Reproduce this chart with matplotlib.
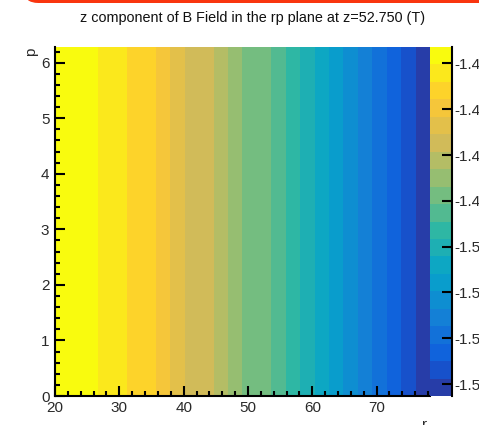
import numpy as np
import matplotlib
matplotlib.use("Agg")
import matplotlib.pyplot as plt
from matplotlib.colors import LinearSegmentedColormap, ListedColormap, BoundaryNorm
from matplotlib.patches import FancyBboxPatch
from matplotlib.ticker import MultipleLocator

plt.rcParams['font.family'] = ['Liberation Sans', 'DejaVu Sans']

# histogram binning: r (26 bins) x phi
r_lo, r_hi, n_r = 20.0, 78.3, 26
p_lo, p_hi = 0.0, 2 * np.pi

# Bz per r bin in tesla (uniform in phi)
bz = [-1.4128, -1.4150, -1.4185, -1.4225, -1.4265, -1.4305, -1.4345,
      -1.4390, -1.4440, -1.4520, -1.4570, -1.4620, -1.4690, -1.4750,
      -1.4800, -1.4860, -1.4930, -1.5000, -1.5080, -1.5160, -1.5230,
      -1.5300, -1.5380, -1.5460, -1.5540, -1.5652]
cbar_ticks = [-1.42, -1.44, -1.46, -1.48, -1.50, -1.52, -1.54, -1.56]
n_contours = 20

title = "z component of B Field in the rp plane at z=52.750 (T)"

# ROOT kBird palette
bird_stops = [0.0, 0.125, 0.25, 0.375, 0.5, 0.625, 0.75, 0.875, 1.0]
bird_r = [0.2082, 0.0592, 0.0780, 0.0232, 0.1802, 0.5301, 0.8186, 0.9956, 0.9764]
bird_g = [0.1664, 0.3599, 0.5041, 0.6419, 0.7178, 0.7492, 0.7328, 0.7862, 0.9832]
bird_b = [0.5293, 0.8684, 0.8385, 0.7914, 0.6425, 0.4662, 0.3499, 0.1968, 0.0539]
bird = LinearSegmentedColormap.from_list(
    "bird", list(zip(bird_stops, zip(bird_r, bird_g, bird_b))), N=255)
# one colour per contour band, picked the way COLZ does it
band_cols = [bird((i + 0.99) / n_contours) for i in range(n_contours)]
cmap = ListedColormap(band_cols)

zmin, zmax = min(bz), max(bz)
levels = np.linspace(zmin, zmax, n_contours + 1)
norm = BoundaryNorm(levels, cmap.N)

r_edges = np.linspace(r_lo, r_hi, n_r + 1)
p_edges = np.array([p_lo, p_hi])
z = np.array(bz)[None, :]

W, H = 479, 425
fig = plt.figure(figsize=(W / 100, H / 100), dpi=100)

ax = fig.add_axes([55 / W, 1 - 396 / H, 375 / W, 349 / H])
mesh = ax.pcolormesh(r_edges, p_edges, z, cmap=cmap, norm=norm)
ax.set_xlim(r_lo, r_hi)
ax.set_ylim(p_lo, p_hi)

ax.xaxis.set_major_locator(MultipleLocator(10))
ax.xaxis.set_minor_locator(MultipleLocator(2))
ax.yaxis.set_major_locator(MultipleLocator(1))
ax.yaxis.set_minor_locator(MultipleLocator(0.2))
ax.tick_params(which='both', direction='in', width=1.5, color='black',
               top=False, right=False, labelsize=11, labelcolor='#2a2a2a')
ax.tick_params(which='major', length=7.5)
ax.tick_params(which='minor', length=3.8)
ax.tick_params(axis='x', pad=3.5)
ax.tick_params(axis='y', pad=4)
for side in ('top', 'right'):
    ax.spines[side].set_visible(False)
for side in ('left', 'bottom'):
    ax.spines[side].set_linewidth(1.5)

# palette axis
cax = fig.add_axes([430 / W, 1 - 396 / H, 22 / W, 349 / H])
cbar = fig.colorbar(mesh, cax=cax, ticks=cbar_ticks)
cbar.outline.set_visible(False)
cbar.minorticks_off()
cbar.ax.yaxis.set_major_formatter(matplotlib.ticker.FormatStrFormatter('%.2f'))
cax.tick_params(direction='in', length=7.5, width=1.5, right=True, left=False,
                labelsize=11, labelcolor='#2a2a2a', pad=1.5)
cax.plot([1, 1], [0, 1], transform=cax.transAxes, color='black', lw=1.5,
         clip_on=False)

fig.text(253 / W, 1 - 18 / H, title, ha='center', va='center', fontsize=10.4,
         color='#111111')
fig.text(31 / W, 1 - 48 / H, 'p', rotation=90, ha='center', va='top',
         fontsize=11, color='#2a2a2a')
fig.text(425 / W, 1 - 418 / H, 'r', ha='center', va='top', fontsize=11,
         color='#2a2a2a')

# red frame edge along the top
frame = FancyBboxPatch((24 / W, 1 - 3 / H), 1.2, 0.1,
                       boxstyle="round,pad=0,rounding_size=0.03",
                       transform=fig.transFigure, facecolor='#f9350f',
                       edgecolor='none', clip_on=False)
fig.patches.append(frame)

fig.savefig("out.png", dpi=100)
